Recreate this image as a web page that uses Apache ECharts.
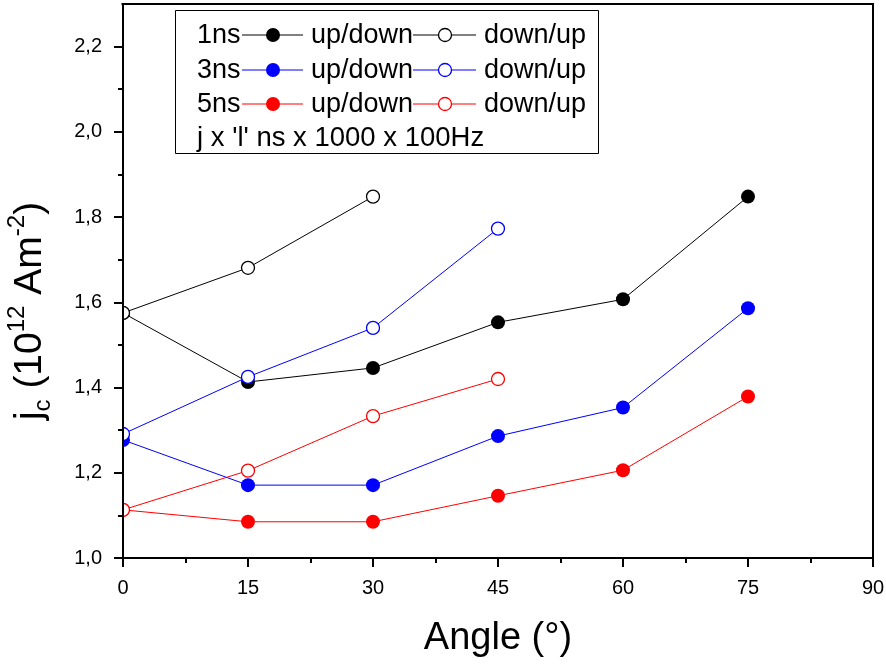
<!DOCTYPE html>
<html>
<head>
<meta charset="utf-8">
<script src="https://cdn.jsdelivr.net/npm/echarts@6/dist/echarts.min.js"></script>
<style>
html,body{margin:0;padding:0;background:#fff;}
#chart{width:886px;height:664px;}
</style>
</head>
<body>
<div id="chart"></div>
<script>
// ---- data ----
var anglesUp = [0, 15, 30, 45, 60, 75];
var anglesDown = [0, 15, 30, 45];
var ns1UpDown = [1.575, 1.413, 1.446, 1.553, 1.607, 1.848];
var ns1DownUp = [1.575, 1.681, 1.848];
var ns3UpDown = [1.277, 1.171, 1.171, 1.286, 1.353, 1.586];
var ns3DownUp = [1.291, 1.425, 1.540, 1.773];
var ns5UpDown = [1.113, 1.085, 1.085, 1.146, 1.206, 1.379];
var ns5DownUp = [1.113, 1.205, 1.333, 1.420];
var legendRows = ['1ns', '3ns', '5ns'];
var legendLabelA = 'up/down';
var legendLabelB = 'down/up';
var legendNote = "j x 'l' ns x 1000 x 100Hz";
var xTitle = 'Angle (°)';

var FONT = '"Liberation Sans", Arial, Helvetica, sans-serif';
var colors = ['#000000', '#0000ff', '#ff0000'];

function pairs(xs, ys) { return ys.map(function (y, i) { return [xs[i], y]; }); }

function filledSeries(name, xs, ys, c) {
  return {
    name: name, type: 'line', data: pairs(xs, ys), clip: false,
    symbol: 'circle', symbolSize: 14, showSymbol: true,
    lineStyle: { color: c, width: 1 },
    itemStyle: { color: c, borderColor: c, borderWidth: 0 },
    z: 2, zlevel: 0, animation: false
  };
}
function openSeries(name, xs, ys, c) {
  return {
    name: name, type: 'line', data: pairs(xs, ys), clip: false,
    symbol: 'circle', symbolSize: 13, showSymbol: true,
    lineStyle: { color: c, width: 1 },
    itemStyle: { color: '#ffffff', borderColor: c, borderWidth: 1.3 },
    z: 2, zlevel: 0, animation: false
  };
}

var series = [
  filledSeries('1ns up/down', anglesUp, ns1UpDown, colors[0]),
  filledSeries('3ns up/down', anglesUp, ns3UpDown, colors[1]),
  filledSeries('5ns up/down', anglesUp, ns5UpDown, colors[2]),
  openSeries('1ns down/up', anglesDown, ns1DownUp, colors[0]),
  openSeries('3ns down/up', anglesDown, ns3DownUp, colors[1]),
  openSeries('5ns down/up', anglesDown, ns5DownUp, colors[2])
];

// legend graphics
var LFONT = '27px ' + FONT;
var legendGraphics = [{
  type: 'rect', shape: { x: 175.5, y: 10.5, width: 423, height: 143 },
  style: { fill: '#fff', stroke: '#000', lineWidth: 1 }, z: 130, zlevel: 1
}];
var rowY = [35, 70, 104];
legendRows.forEach(function (lbl, i) {
  var y = rowY[i], c = colors[i];
  legendGraphics.push(
    { type: 'text', x: 197, y: y + 1, z: 131, zlevel: 1, style: { text: lbl, fill: '#000', font: LFONT, textAlign: 'left', textVerticalAlign: 'middle' } },
    { type: 'line', shape: { x1: 242, y1: y, x2: 303, y2: y }, style: { stroke: c, lineWidth: 1 }, z: 131, zlevel: 1 },
    { type: 'circle', shape: { cx: 273, cy: y, r: 7 }, style: { fill: c }, z: 132, zlevel: 1 },
    { type: 'text', x: 311, y: y + 1, z: 131, zlevel: 1, style: { text: legendLabelA, fill: '#000', font: LFONT, textAlign: 'left', textVerticalAlign: 'middle' } },
    { type: 'line', shape: { x1: 413, y1: y, x2: 476, y2: y }, style: { stroke: c, lineWidth: 1 }, z: 131, zlevel: 1 },
    { type: 'circle', shape: { cx: 445, cy: y, r: 6.5 }, style: { fill: '#fff', stroke: c, lineWidth: 1.3 }, z: 132, zlevel: 1 },
    { type: 'text', x: 484, y: y + 1, z: 131, zlevel: 1, style: { text: legendLabelB, fill: '#000', font: LFONT, textAlign: 'left', textVerticalAlign: 'middle' } }
  );
});
legendGraphics.push({ type: 'text', x: 197, y: 138, z: 131, zlevel: 1, style: { text: legendNote, fill: '#000', font: '27.5px ' + FONT, textAlign: 'left', textVerticalAlign: 'middle' } });

var chart = echarts.init(document.getElementById('chart'), null, { renderer: 'canvas' });
chart.setOption({
  backgroundColor: '#fff',
  animation: false,
  grid: { left: 123, right: 13, top: 4, bottom: 106, show: true, borderColor: '#000', borderWidth: 2, backgroundColor: 'transparent', containLabel: false, outerBoundsMode: 'none' },
  xAxis: {
    type: 'value', min: 0, max: 90, interval: 15, zlevel: 2, z: 1,
    name: xTitle, nameLocation: 'middle', nameGap: 62,
    nameTextStyle: { fontSize: 38, color: '#000', fontFamily: FONT },
    axisLine: { show: true, onZero: false, lineStyle: { color: '#000', width: 2 } },
    axisTick: { show: true, inside: false, length: 9, lineStyle: { color: '#000', width: 2 } },
    minorTick: { show: true, splitNumber: 2, length: 5, lineStyle: { color: '#000', width: 2 } },
    axisLabel: { fontSize: 20, color: '#000', fontFamily: FONT, margin: 20 },
    splitLine: { show: false }, minorSplitLine: { show: false }
  },
  yAxis: {
    type: 'value', min: 1.0, max: 2.3, interval: 0.2, zlevel: 2, z: 1,
    axisLine: { show: true, onZero: false, lineStyle: { color: '#000', width: 2 } },
    axisTick: { show: true, inside: false, length: 9, lineStyle: { color: '#000', width: 2 } },
    minorTick: { show: true, splitNumber: 2, length: 5, lineStyle: { color: '#000', width: 2 } },
    axisLabel: {
      fontSize: 20, color: '#000', fontFamily: FONT, margin: 21,
      formatter: function (v) {
        var r = Math.round(v * 10);
        if (r % 2 !== 0) return '';
        return (r / 10).toFixed(1).replace('.', ',');
      }
    },
    splitLine: { show: false }, minorSplitLine: { show: false }
  },
  graphic: [
    // clip markers left of the y axis
    { type: 'rect', shape: { x: 0, y: 0, width: 122, height: 664 }, style: { fill: '#fff' }, z: 1, zlevel: 1, silent: true },
    // hide tick at the top edge (2.3)
    { type: 'rect', shape: { x: 100, y: 0, width: 21.5, height: 36 }, style: { fill: '#fff' }, z: 1, zlevel: 3, silent: true },
    {
      type: 'text', x: 30, y: 311, rotation: Math.PI / 2, z: 5, zlevel: 1,
      style: {
        text: '{a|j}{s|c}{a| (10}{p|12}{a| Am}{p|-2}{a|)}',
        textAlign: 'center', textVerticalAlign: 'middle', fill: '#000',
        rich: {
          a: { fontSize: 39, fontFamily: FONT, lineHeight: 50, verticalAlign: 'middle', fill: '#000' },
          s: { fontSize: 24, fontFamily: FONT, lineHeight: 24, verticalAlign: 'bottom', fill: '#000' },
          p: { fontSize: 24, fontFamily: FONT, lineHeight: 24, verticalAlign: 'top', fill: '#000' }
        }
      }
    }
  ].concat(legendGraphics),
  series: series
});
</script>
</body>
</html>
